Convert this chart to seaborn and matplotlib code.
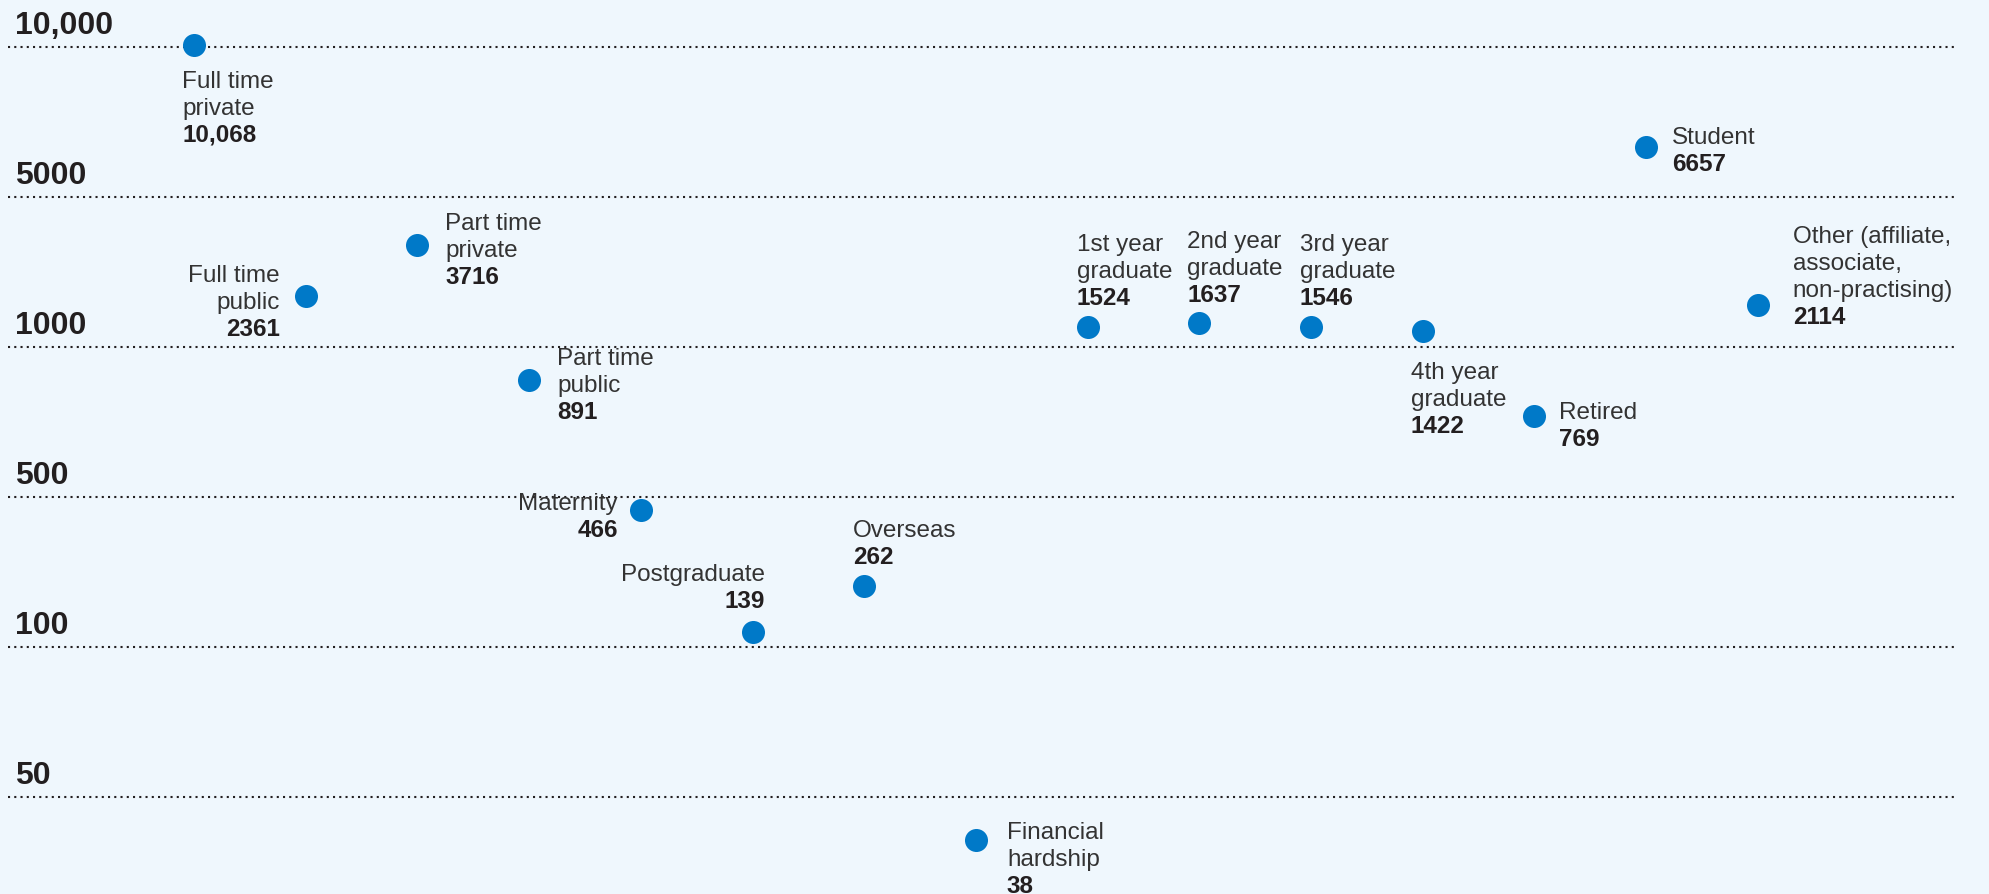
import numpy as np
import pandas as pd
import matplotlib
matplotlib.use('Agg')
import matplotlib.pyplot as plt
import seaborn as sns

# member counts by category
categories = ['Full time\nprivate', 'Full time\npublic', 'Part time\nprivate', 'Part time\npublic',
              'Maternity', 'Postgraduate', 'Overseas', 'Financial\nhardship',
              '1st year\ngraduate', '2nd year\ngraduate', '3rd year\ngraduate', '4th year\ngraduate',
              'Retired', 'Student', 'Other (affiliate,\nassociate,\nnon-practising)']
members = [10068, 2361, 3716, 891, 466, 139, 262, 38, 1524, 1637, 1546, 1422, 769, 6657, 2114]
tick_values = [50, 100, 500, 1000, 5000, 10000]

df = pd.DataFrame({'category': categories, 'members': members})

bg = '#EFF7FD'
dot_col = '#0079C8'
ink = '#231F20'
font = 'Liberation Sans'

# piecewise scale: the gridlines are evenly spaced
knot_vals = [0] + tick_values + [20000]
knot_pos = [-1.2, 0, 1, 2, 3, 4, 5, 7]


def fwd(v):
    return np.interp(v, knot_vals, knot_pos)


def inv(p):
    return np.interp(p, knot_pos, knot_vals)


def fmt(v):
    return f'{v:,}' if v >= 10000 else str(v)


# label placement relative to the dot, in pixels: dx, dy of first baseline (down +), alignment
label_place = [(-12, 42, 'left'), (-26, -15, 'right'), (28, -16, 'left'), (28, -16, 'left'),
               (-23, -1, 'right'), (12, -52, 'right'), (-11, -50, 'left'), (31, -2, 'left'),
               (-11, -77, 'left'), (-12, -76, 'left'), (-11, -77, 'left'), (-12, 47, 'left'),
               (25, 2, 'left'), (26, -4, 'left'), (35, -63, 'left')]
line_h = 27

fig = plt.figure(figsize=(19.89, 8.95), dpi=100, facecolor=bg)
ax = fig.add_axes([0, 0, 1, 1])
ax.set_facecolor(bg)

sns.scatterplot(data=df, x='category', y='members', ax=ax, s=275, color=dot_col,
                linewidth=0, zorder=3, legend=False)

ax.set_yscale('function', functions=(fwd, inv))
ax.set_xlim(-1.737, 16.07)
ax.set_ylim(inv(-0.647), inv(5.32))
ax.axis('off')

for v in tick_values:
    ax.axhline(v, xmin=8 / 1989, xmax=1955 / 1989, color=ink, lw=1.5,
               linestyle=(0, (1, 2)), zorder=1)
    ax.annotate(fmt(v), xy=(0, v), xycoords=ax.get_yaxis_transform(),
                xytext=(15, 14), textcoords='offset pixels', ha='left', va='baseline',
                fontsize=23, family=font, fontweight='bold', color=ink)

for i, (name, val) in enumerate(zip(categories, members)):
    dx, dy, ha = label_place[i]
    lines = name.split('\n') + [fmt(val)]
    for k, line in enumerate(lines):
        last = k == len(lines) - 1
        ax.annotate(line, xy=(i, val), xytext=(dx, -(dy + k * line_h)),
                    textcoords='offset pixels', ha=ha, va='baseline',
                    fontsize=17.5, family=font,
                    fontweight='bold' if last else 'normal',
                    color=ink if last else '#333333')

fig.savefig('out.png', dpi=100, facecolor=bg)
